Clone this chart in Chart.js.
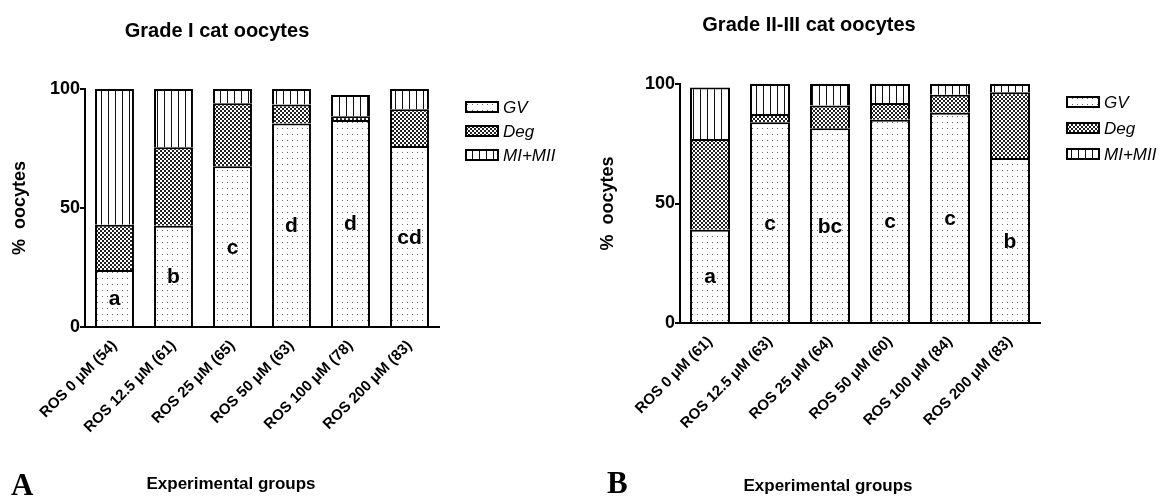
<!DOCTYPE html>
<html>
<head>
<meta charset="utf-8">
<script src="https://cdn.jsdelivr.net/npm/chart.js@4/dist/chart.umd.min.js"></script>
<style>
  html, body { margin: 0; padding: 0; background: #fff; }
  #wrap { position: relative; width: 1171px; height: 498px; overflow: hidden; }
  #cA { position: absolute; left: 0; top: 0; }
  #cB { position: absolute; left: 585px; top: 0; }
</style>
</head>
<body>
<div id="wrap">
  <canvas id="cA" width="585" height="498"></canvas>
  <canvas id="cB" width="586" height="498"></canvas>
</div>
<script>
// ---- data -------------------------------------------------------------
const seriesNames = ['GV', 'Deg', 'MI+MII'];
const yTicks = [0, 50, 100];

// Panel A: Grade I oocytes
const categoriesA = ['ROS 0 \u03BCM (54)', 'ROS 12.5 \u03BCM (61)', 'ROS 25 \u03BCM (65)',
                     'ROS 50 \u03BCM (63)', 'ROS 100 \u03BCM (78)', 'ROS 200 \u03BCM (83)'];
const gvA    = [24, 42.5, 67.5, 85.5, 87, 76];
const degA   = [19, 33, 26.5, 8, 1.5, 15.5];
const mimiiA = [57, 24.5, 6, 6.5, 9, 8.5];
const lettersA = ['a', 'b', 'c', 'd', 'd', 'cd'];

// Panel B: Grade II-III oocytes
const categoriesB = ['ROS 0 \u03BCM (61)', 'ROS 12.5 \u03BCM (63)', 'ROS 25 \u03BCM (64)',
                     'ROS 50 \u03BCM (60)', 'ROS 100 \u03BCM (84)', 'ROS 200 \u03BCM (83)'];
const gvB    = [39, 84, 81.5, 85, 88, 69];
const degB   = [38, 3.5, 9.5, 7, 7.5, 27.5];
const mimiiB = [21.5, 12.5, 9, 8, 4.5, 3.5];
const lettersB = ['a', 'c', 'bc', 'c', 'c', 'b'];

// ---- styling ----------------------------------------------------------
const SANS = "'Liberation Sans', Arial, Helvetica, sans-serif";
const SERIF = "'Liberation Serif', 'Times New Roman', serif";
Chart.defaults.font.family = SANS;
Chart.defaults.color = '#000';

function makePattern(kind) {
  const c = document.createElement('canvas');
  const g = c.getContext('2d');
  if (kind === 'dots') {
    c.width = 5; c.height = 6;
    g.fillStyle = '#fff'; g.fillRect(0, 0, 5, 6);
    g.fillStyle = '#666'; g.fillRect(2, 2, 1, 1);
  } else if (kind === 'mesh') {
    c.width = 4; c.height = 4;
    g.fillStyle = '#222'; g.fillRect(0, 0, 4, 4);
    g.fillStyle = '#fff'; g.fillRect(0, 0, 2, 2); g.fillRect(2, 2, 2, 2);
  } else {
    c.width = 7; c.height = 4;
    g.fillStyle = '#fff'; g.fillRect(0, 0, 7, 4);
    g.fillStyle = '#111'; g.fillRect(3, 0, 1, 4);
  }
  return g.createPattern(c, 'repeat');
}
const fills = [makePattern('dots'), makePattern('mesh'), makePattern('lines')];

// Texts around each panel: title, x-axis caption, panel letter, legend, group letters
const panelText = {
  id: 'panelText',
  afterDatasetsDraw(chart, args, o) {
    const ctx = chart.ctx;
    ctx.save();
    ctx.fillStyle = '#000';
    ctx.textBaseline = 'alphabetic';

    ctx.font = 'bold 20px ' + SANS;
    ctx.textAlign = 'center';
    ctx.fillText(o.title, o.titleX, o.titleY);

    ctx.font = 'bold 17px ' + SANS;
    ctx.fillText(o.xTitle, o.xTitleX, o.xTitleY);

    ctx.font = 'bold 31px ' + SERIF;
    ctx.textAlign = 'left';
    ctx.fillText(o.panel, o.panelX, o.panelY);

    // legend
    ctx.font = 'italic 17px ' + SANS;
    ctx.textBaseline = 'middle';
    chart.data.datasets.forEach((ds, i) => {
      const y = o.legendY + i * o.legendGap;
      ctx.fillStyle = ds.backgroundColor;
      ctx.fillRect(o.legendX, y - 5, 32, 10);
      ctx.lineWidth = 2;
      ctx.strokeStyle = '#000';
      ctx.strokeRect(o.legendX, y - 5, 32, 10);
      ctx.fillStyle = '#000';
      ctx.fillText(ds.label, o.legendX + 37, y + 1);
    });

    // group letters, centred in the GV segment
    ctx.font = 'bold 21px ' + SANS;
    ctx.textAlign = 'center';
    ctx.textBaseline = 'alphabetic';
    const meta = chart.getDatasetMeta(0);
    const yScale = chart.scales.y;
    const gv = chart.data.datasets[0].data;
    o.letters.forEach((t, i) => {
      const x = meta.data[i].x;
      const y = yScale.getPixelForValue(gv[i] / 2) + 7;
      ctx.fillText(t, x, y);
    });
    ctx.restore();
  }
};

function buildPanel(id, cats, gv, deg, mi, letters, cfg) {
  const data = [gv, deg, mi];
  return new Chart(document.getElementById(id), {
    type: 'bar',
    data: {
      labels: cats,
      datasets: seriesNames.map((name, i) => ({
        label: name,
        data: data[i],
        backgroundColor: fills[i],
        borderColor: '#000',
        borderWidth: { top: 2, left: 2, right: 2, bottom: 0 },
        borderSkipped: false,
        barPercentage: cfg.barPct,
        categoryPercentage: 1
      }))
    },
    options: {
      responsive: false,
      animation: false,
      devicePixelRatio: 1,
      layout: { padding: { top: cfg.top, right: cfg.right, left: 0, bottom: 0 } },
      plugins: {
        legend: { display: false },
        tooltip: { enabled: false },
        panelText: Object.assign({ letters }, cfg.text)
      },
      scales: {
        x: {
          stacked: true,
          grid: { display: false, drawTicks: false },
          border: { display: true, color: '#000', width: 2 },
          ticks: {
            font: { weight: 'bold', size: 15 },
            color: '#000',
            minRotation: 45, maxRotation: 45,
            padding: 10,
            autoSkip: false
          },
          afterFit: s => { s.height = 498 - cfg.bottom; }
        },
        y: {
          stacked: true,
          min: 0, max: 100,
          afterBuildTicks: s => { s.ticks = yTicks.map(v => ({ value: v })); },
          grid: { drawOnChartArea: false, drawTicks: true, tickLength: 5, color: '#000', lineWidth: 2 },
          border: { display: true, color: '#000', width: 2 },
          ticks: { font: { weight: 'bold', size: 18 }, color: '#000', padding: 0 },
          title: { display: true, text: '%  oocytes', font: { weight: 'bold', size: 18 }, padding: { top: cfg.yTitlePad } },
          afterFit: s => { s.width = cfg.left; }
        }
      }
    },
    plugins: [panelText]
  });
}

buildPanel('cA', categoriesA, gvA, degA, mimiiA, lettersA, {
  top: 89, bottom: 327, left: 85, right: 585 - 439, barPct: 0.66, yTitlePad: 9,
  text: {
    title: 'Grade I cat oocytes', titleX: 217, titleY: 37,
    xTitle: 'Experimental groups', xTitleX: 231, xTitleY: 489,
    panel: 'A', panelX: 11, panelY: 495,
    legendX: 466, legendY: 107, legendGap: 24
  }
});

buildPanel('cB', categoriesB, gvB, degB, mimiiB, lettersB, {
  top: 84, bottom: 323, left: 95, right: 586 - 455, barPct: 0.667, yTitlePad: 12,
  text: {
    title: 'Grade II-III cat oocytes', titleX: 224, titleY: 31,
    xTitle: 'Experimental groups', xTitleX: 243, xTitleY: 491,
    panel: 'B', panelX: 22, panelY: 493,
    legendX: 482, legendY: 102, legendGap: 26
  }
});
</script>
</body>
</html>
